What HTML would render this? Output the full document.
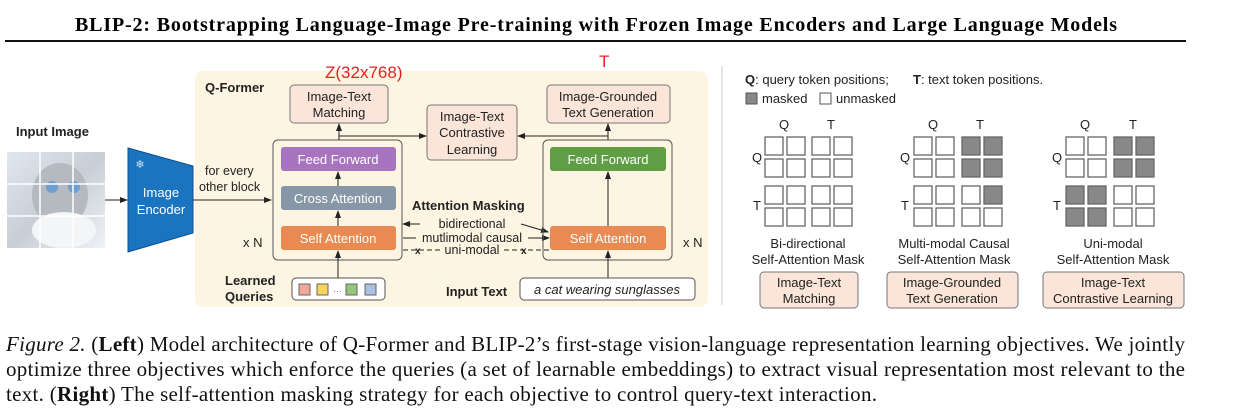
<!DOCTYPE html>
<html><head><meta charset="utf-8"><style>
html,body{margin:0;padding:0;background:#fff;width:1249px;height:418px;overflow:hidden}
svg{display:block}
.s{font-family:"Liberation Sans",sans-serif}
.r{font-family:"Liberation Serif",serif}
</style></head><body>
<svg width="1249" height="418" viewBox="0 0 1249 418" xmlns="http://www.w3.org/2000/svg">
<defs>
<marker id="a" markerWidth="8" markerHeight="8" refX="7" refY="4" orient="auto" markerUnits="userSpaceOnUse"><path d="M0,1 L8,4 L0,7z" fill="#222"/></marker>
<linearGradient id="cat" x1="0" y1="0" x2="1" y2="1"><stop offset="0" stop-color="#dfe7f0"/><stop offset="0.5" stop-color="#c9ced6"/><stop offset="1" stop-color="#eef2f6"/></linearGradient>
</defs>
<text x="75" y="31" class="r" font-weight="bold" font-size="20" textLength="1042" lengthAdjust="spacing">BLIP-2: Bootstrapping Language-Image Pre-training with Frozen Image Encoders and Large Language Models</text>
<line x1="5" y1="41" x2="1186" y2="41" stroke="#111" stroke-width="2"/>

<rect x="195" y="71" width="513" height="236" rx="8" fill="#fdf5e2"/>
<text x="205" y="92" class="s" font-weight="bold" font-size="13" fill="#222">Q-Former</text>
<text x="325" y="78" class="s" font-size="17" fill="#e82020">Z(32x768)</text>
<text x="599" y="67" class="s" font-size="17" fill="#e82020">T</text>

<text x="16" y="136" class="s" font-weight="bold" font-size="13" fill="#222">Input Image</text>
<rect x="7" y="152" width="98" height="96" fill="url(#cat)"/>
<ellipse cx="60" cy="195" rx="28" ry="32" fill="#b5b9c0"/>
<ellipse cx="64" cy="230" rx="32" ry="18" fill="#f4f5f7"/>
<circle cx="52" cy="187" r="6" fill="#6f9fd0"/><circle cx="74" cy="187" r="6" fill="#6f9fd0"/>
<g stroke="#fff" stroke-width="1.5"><line x1="40" y1="152" x2="40" y2="248"/><line x1="73" y1="152" x2="73" y2="248"/><line x1="7" y1="184" x2="105" y2="184"/><line x1="7" y1="216" x2="105" y2="216"/></g>
<line x1="105" y1="200" x2="127" y2="200" stroke="#222" marker-end="url(#a)"/>
<polygon points="128,148 193,166 193,233 128,252" fill="#1a74c0" stroke="#0e4f8c"/>
<text x="140" y="168" font-size="11" fill="#cfe3f7" text-anchor="middle">❄</text>
<text x="161" y="197" text-anchor="middle" class="s" font-size="13" fill="#fff">Image</text>
<text x="161" y="214" text-anchor="middle" class="s" font-size="13" fill="#fff">Encoder</text>
<text x="205" y="175" class="s" font-size="12.5" fill="#222">for every</text>
<text x="199" y="191" class="s" font-size="12.5" fill="#222">other block</text>
<line x1="193" y1="200" x2="271" y2="200" stroke="#222" marker-end="url(#a)"/>

<rect x="290" y="85" width="98" height="38" rx="4" fill="#fae5d8" stroke="#777"/>
<text x="339" y="101" text-anchor="middle" class="s" font-size="13" fill="#222">Image-Text</text>
<text x="339" y="117" text-anchor="middle" class="s" font-size="13" fill="#222">Matching</text>
<rect x="273" y="140" width="129" height="120" rx="5" fill="none" stroke="#555"/>
<rect x="281" y="147" width="115" height="24" rx="3" fill="#a874c0"/>
<text x="338" y="164" text-anchor="middle" class="s" font-size="13" fill="#fff">Feed Forward</text>
<rect x="281" y="186" width="115" height="24" rx="3" fill="#8797a8"/>
<text x="338" y="203" text-anchor="middle" class="s" font-size="13" fill="#fff">Cross Attention</text>
<rect x="281" y="226" width="115" height="24" rx="3" fill="#e88a52"/>
<text x="338" y="243" text-anchor="middle" class="s" font-size="13" fill="#fff">Self Attention</text>
<text x="243" y="247" class="s" font-size="13" fill="#222">x N</text>
<g stroke="#222" fill="none">
<line x1="338" y1="186" x2="338" y2="172" marker-end="url(#a)"/>
<line x1="338" y1="226" x2="338" y2="211" marker-end="url(#a)"/>
<line x1="338" y1="278" x2="338" y2="251" marker-end="url(#a)"/>
<line x1="339" y1="140" x2="339" y2="124" marker-end="url(#a)"/>
<polyline points="339,136 426,136" marker-end="url(#a)"/>
<line x1="608" y1="140" x2="608" y2="124" marker-end="url(#a)"/>
<polyline points="608,136 518,136" marker-end="url(#a)"/>
</g>
<text x="225" y="285" class="s" font-weight="bold" font-size="13" fill="#222">Learned</text>
<text x="225" y="301" class="s" font-weight="bold" font-size="13" fill="#222">Queries</text>
<rect x="292" y="278" width="93" height="22" rx="4" fill="#fff" stroke="#555"/>
<rect x="299" y="284" width="11" height="11" fill="#f0a898" stroke="#666"/>
<rect x="317" y="284" width="11" height="11" fill="#f7d35a" stroke="#666"/>
<text x="333" y="294" class="s" font-size="9" fill="#666">···</text>
<rect x="346" y="284" width="11" height="11" fill="#94c77c" stroke="#666"/>
<rect x="365" y="284" width="11" height="11" fill="#a9c2e4" stroke="#666"/>

<rect x="427" y="105" width="90" height="55" rx="4" fill="#fae5d8" stroke="#777"/>
<text x="472" y="121" text-anchor="middle" class="s" font-size="13" fill="#222">Image-Text</text>
<text x="472" y="137" text-anchor="middle" class="s" font-size="13" fill="#222">Contrastive</text>
<text x="472" y="154" text-anchor="middle" class="s" font-size="13" fill="#222">Learning</text>

<text x="412" y="210" class="s" font-weight="bold" font-size="13" fill="#222">Attention Masking</text>
<text x="472" y="228" text-anchor="middle" class="s" font-size="12.5" fill="#222">bidirectional</text>
<text x="472" y="242" text-anchor="middle" class="s" font-size="12.5" fill="#222">mutlimodal causal</text>
<text x="472" y="254" text-anchor="middle" class="s" font-size="12.5" fill="#222">uni-modal</text>
<g stroke="#222">
<line x1="420" y1="224" x2="403" y2="224" marker-end="url(#a)"/>
<line x1="521" y1="224" x2="548" y2="232" marker-end="url(#a)"/>
<line x1="403" y1="238" x2="416" y2="238"/>
<line x1="528" y1="238" x2="549" y2="238" marker-end="url(#a)"/>
<line x1="403" y1="250" x2="440" y2="250" stroke-dasharray="5,3"/>
<line x1="504" y1="250" x2="549" y2="250" stroke-dasharray="5,3"/>
</g>
<text x="415" y="254" class="s" font-size="10" font-weight="bold" fill="#222">x</text>
<text x="521" y="254" class="s" font-size="10" font-weight="bold" fill="#222">x</text>

<rect x="547" y="85" width="123" height="38" rx="4" fill="#fae5d8" stroke="#777"/>
<text x="608" y="101" text-anchor="middle" class="s" font-size="13" fill="#222">Image-Grounded</text>
<text x="608" y="117" text-anchor="middle" class="s" font-size="13" fill="#222">Text Generation</text>
<rect x="543" y="140" width="129" height="120" rx="5" fill="none" stroke="#555"/>
<rect x="550" y="147" width="116" height="24" rx="3" fill="#5f9e45"/>
<text x="608" y="164" text-anchor="middle" class="s" font-size="13" fill="#fff">Feed Forward</text>
<rect x="550" y="226" width="116" height="24" rx="3" fill="#e88a52"/>
<text x="608" y="243" text-anchor="middle" class="s" font-size="13" fill="#fff">Self Attention</text>
<text x="683" y="247" class="s" font-size="13" fill="#222">x N</text>
<g stroke="#222"><line x1="608" y1="226" x2="608" y2="172" marker-end="url(#a)"/><line x1="608" y1="278" x2="608" y2="251" marker-end="url(#a)"/></g>
<text x="446" y="296" class="s" font-weight="bold" font-size="13" fill="#222">Input Text</text>
<rect x="520" y="278" width="175" height="22" rx="4" fill="#fff" stroke="#555"/>
<text x="607" y="294" text-anchor="middle" class="s" font-style="italic" font-size="13" fill="#222">a cat wearing sunglasses</text>

<line x1="722" y1="66" x2="722" y2="305" stroke="#ccc"/>

<text x="745" y="84" class="s" font-size="13" fill="#222"><tspan font-weight="bold">Q</tspan>: query token positions;</text>
<text x="913" y="84" class="s" font-size="13" fill="#222"><tspan font-weight="bold">T</tspan>: text token positions.</text>
<rect x="746" y="93" width="11" height="11" fill="#888" stroke="#555"/>
<text x="762" y="103" class="s" font-size="13" fill="#222">masked</text>
<rect x="820" y="93" width="11" height="11" fill="#fff" stroke="#555"/>
<text x="836" y="103" class="s" font-size="13" fill="#222">unmasked</text>

<g class="s" font-size="13" fill="#222">
<text x="784" y="129" text-anchor="middle">Q</text><text x="831" y="129" text-anchor="middle">T</text>
<text x="933" y="129" text-anchor="middle">Q</text><text x="980" y="129" text-anchor="middle">T</text>
<text x="1085" y="129" text-anchor="middle">Q</text><text x="1133" y="129" text-anchor="middle">T</text>
<text x="752" y="162">Q</text><text x="753" y="210">T</text>
<text x="900" y="162">Q</text><text x="901" y="210">T</text>
<text x="1052" y="162">Q</text><text x="1053" y="210">T</text>
</g>
<g stroke="#666" stroke-width="1.3">
<g fill="#fff">
<rect x="765" y="137" width="18" height="18"/><rect x="787" y="137" width="18" height="18"/><rect x="812" y="137" width="18" height="18"/><rect x="834" y="137" width="18" height="18"/>
<rect x="765" y="159" width="18" height="18"/><rect x="787" y="159" width="18" height="18"/><rect x="812" y="159" width="18" height="18"/><rect x="834" y="159" width="18" height="18"/>
<rect x="765" y="186" width="18" height="18"/><rect x="787" y="186" width="18" height="18"/><rect x="812" y="186" width="18" height="18"/><rect x="834" y="186" width="18" height="18"/>
<rect x="765" y="208" width="18" height="18"/><rect x="787" y="208" width="18" height="18"/><rect x="812" y="208" width="18" height="18"/><rect x="834" y="208" width="18" height="18"/>
</g>
<rect x="914" y="137" width="18" height="18" fill="#fff"/><rect x="936" y="137" width="18" height="18" fill="#fff"/><rect x="962" y="137" width="18" height="18" fill="#888"/><rect x="984" y="137" width="18" height="18" fill="#888"/>
<rect x="914" y="159" width="18" height="18" fill="#fff"/><rect x="936" y="159" width="18" height="18" fill="#fff"/><rect x="962" y="159" width="18" height="18" fill="#888"/><rect x="984" y="159" width="18" height="18" fill="#888"/>
<rect x="914" y="186" width="18" height="18" fill="#fff"/><rect x="936" y="186" width="18" height="18" fill="#fff"/><rect x="962" y="186" width="18" height="18" fill="#fff"/><rect x="984" y="186" width="18" height="18" fill="#888"/>
<rect x="914" y="208" width="18" height="18" fill="#fff"/><rect x="936" y="208" width="18" height="18" fill="#fff"/><rect x="962" y="208" width="18" height="18" fill="#fff"/><rect x="984" y="208" width="18" height="18" fill="#fff"/>
<rect x="1066" y="137" width="18" height="18" fill="#fff"/><rect x="1088" y="137" width="18" height="18" fill="#fff"/><rect x="1114" y="137" width="18" height="18" fill="#888"/><rect x="1136" y="137" width="18" height="18" fill="#888"/>
<rect x="1066" y="159" width="18" height="18" fill="#fff"/><rect x="1088" y="159" width="18" height="18" fill="#fff"/><rect x="1114" y="159" width="18" height="18" fill="#888"/><rect x="1136" y="159" width="18" height="18" fill="#888"/>
<rect x="1066" y="186" width="18" height="18" fill="#888"/><rect x="1088" y="186" width="18" height="18" fill="#888"/><rect x="1114" y="186" width="18" height="18" fill="#fff"/><rect x="1136" y="186" width="18" height="18" fill="#fff"/>
<rect x="1066" y="208" width="18" height="18" fill="#888"/><rect x="1088" y="208" width="18" height="18" fill="#888"/><rect x="1114" y="208" width="18" height="18" fill="#fff"/><rect x="1136" y="208" width="18" height="18" fill="#fff"/>
</g>
<g class="s" font-size="13" fill="#222" text-anchor="middle">
<text x="808" y="248">Bi-directional</text><text x="808" y="264">Self-Attention Mask</text>
<text x="954" y="248">Multi-modal Causal</text><text x="954" y="264">Self-Attention Mask</text>
<text x="1113" y="248">Uni-modal</text><text x="1113" y="264">Self-Attention Mask</text>
</g>
<rect x="760" y="272" width="98" height="36" rx="4" fill="#fae5d8" stroke="#777"/>
<rect x="887" y="272" width="131" height="36" rx="4" fill="#fae5d8" stroke="#777"/>
<rect x="1043" y="272" width="141" height="36" rx="4" fill="#fae5d8" stroke="#777"/>
<g class="s" font-size="13" fill="#222" text-anchor="middle">
<text x="809" y="287">Image-Text</text><text x="809" y="303">Matching</text>
<text x="952" y="287">Image-Grounded</text><text x="952" y="303">Text Generation</text>
<text x="1113" y="287">Image-Text</text><text x="1113" y="303">Contrastive Learning</text>
</g>

<g class="r" font-size="21" fill="#111">
<text x="6" y="351" textLength="1179" lengthAdjust="spacing"><tspan font-style="italic">Figure 2.</tspan> (<tspan font-weight="bold">Left</tspan>) Model architecture of Q-Former and BLIP-2’s first-stage vision-language representation learning objectives. We jointly</text>
<text x="6" y="376" textLength="1179" lengthAdjust="spacing">optimize three objectives which enforce the queries (a set of learnable embeddings) to extract visual representation most relevant to the</text>
<text x="6" y="401" textLength="871" lengthAdjust="spacing">text. (<tspan font-weight="bold">Right</tspan>) The self-attention masking strategy for each objective to control query-text interaction.</text>
</g>
</svg>
</body></html>
